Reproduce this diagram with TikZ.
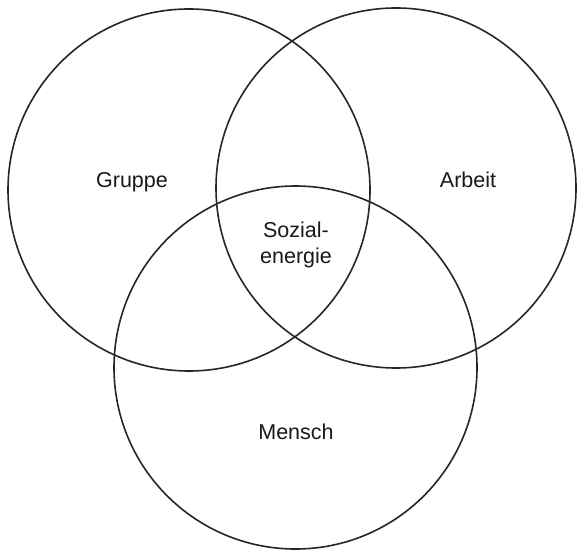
\documentclass[tikz,border=0pt]{standalone}
\usepackage{fontspec}
\setmainfont{Liberation Sans}
\begin{document}
\begin{tikzpicture}[x=1pt,y=-1pt,
  ring/.style={draw=black!85,line width=1.6pt},
  lbl/.style={font=\fontsize{21.5}{26}\selectfont,text=black!90,inner sep=0pt,anchor=base}]
\useasboundingbox[fill=white] (0,0) rectangle (577,553);
\coordinate (cG) at (189,190);
\coordinate (cA) at (396,188);
\coordinate (cM) at (295.5,367.5);
\draw[ring] (cG) circle[radius=181pt];
\draw[ring] (cA) circle[radius=180pt];
\draw[ring] (cM) circle[radius=181.5pt];
\node[lbl] (gruppe) at (132,187) {Gruppe};
\node[lbl] (arbeit) at (468,187) {Arbeit};
\node[lbl] (mensch) at (296,439.5) {Mensch};
\node[lbl,align=center,anchor=center] (sozial) at (296,245) {Sozial-\\energie};
\end{tikzpicture}
\end{document}
